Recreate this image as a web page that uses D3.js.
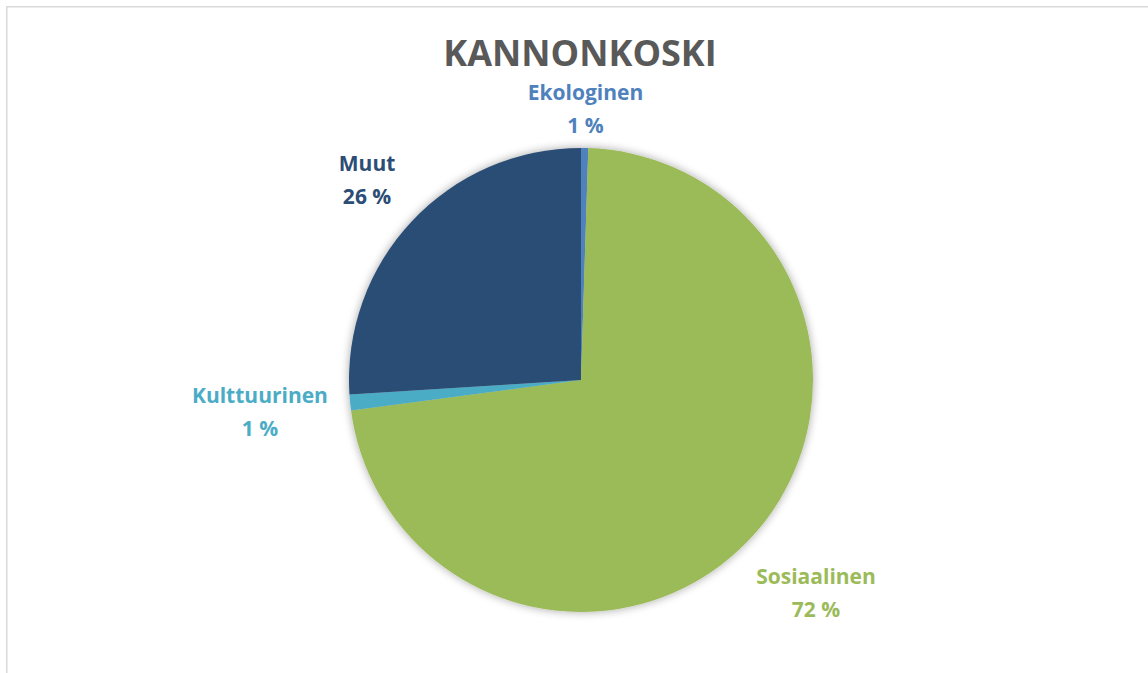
<!DOCTYPE html>
<html>
<head>
<meta charset="utf-8">
<script src="https://cdn.jsdelivr.net/npm/d3@7"></script>
<style>
  body { margin: 0; background: #fff; }
  svg { display: block; }
  text { font-family: "Open Sans", "Liberation Sans", sans-serif; font-weight: bold; }
</style>
</head>
<body>
<div id="chart"></div>
<script>
// chart values
const title = "KANNONKOSKI";
const categories = ["Ekologinen", "Sosiaalinen", "Kulttuurinen", "Muut"];
const values = [0.5, 72.4, 1.1, 26];
const colors = ["#4F81BD", "#9BBB59", "#4BACC6", "#2C4D75"];

document.addEventListener("DOMContentLoaded", function() {
  const width = 1148, height = 673;
  const cx = 581, cy = 380, radius = 232;

  const svg = d3.select("#chart").append("svg")
    .attr("width", width)
    .attr("height", height);

  // chart frame (runs past the right / bottom edge)
  svg.append("rect")
    .attr("x", 6.75).attr("y", 6.75)
    .attr("width", width + 50).attr("height", height + 50)
    .attr("fill", "none")
    .attr("stroke", "#d9d9d9")
    .attr("stroke-width", 1.5);

  // soft shadow like the office pie
  const defs = svg.append("defs");
  const filter = defs.append("filter").attr("id", "shadow")
    .attr("x", "-10%").attr("y", "-10%").attr("width", "120%").attr("height", "120%");
  filter.append("feGaussianBlur").attr("in", "SourceAlpha").attr("stdDeviation", 5).attr("result", "blur");
  filter.append("feComponentTransfer").attr("in", "blur").attr("result", "soft")
    .append("feFuncA").attr("type", "linear").attr("slope", 0.35);
  const merge = filter.append("feMerge");
  merge.append("feMergeNode").attr("in", "soft");
  merge.append("feMergeNode").attr("in", "SourceGraphic");

  svg.append("text")
    .attr("x", 580).attr("y", 66)
    .attr("text-anchor", "middle")
    .attr("font-size", 36)
    .attr("fill", "#595959")
    .text(title);
  const titleBottom = 68;

  const data = categories.map((c, i) => ({ name: c, value: values[i], color: colors[i] }));
  const total = d3.sum(values);

  const pie = d3.pie().value(d => d.value).sort(null);
  const arc = d3.arc().innerRadius(0).outerRadius(radius);
  const arcs = pie(data);

  const g = svg.append("g").attr("transform", `translate(${cx},${cy})`);

  g.append("g").attr("filter", "url(#shadow)")
    .selectAll("path")
    .data(arcs)
    .enter()
    .append("path")
    .attr("d", arc)
    .attr("fill", d => d.data.color);

  // outside labels, pushed out just past the rim
  const gap = 20;
  const labels = g.selectAll(".label")
    .data(arcs)
    .enter()
    .append("text")
    .attr("class", "label")
    .attr("text-anchor", "middle")
    .attr("font-size", 21)
    .attr("fill", d => d.data.color);

  labels.append("tspan").attr("x", 0).attr("dy", 0).text(d => d.data.name);
  labels.append("tspan").attr("x", 0).attr("dy", 33)
    .text(d => Math.round(d.data.value / total * 100) + " %");

  labels.each(function(d) {
    const box = this.getBBox();
    const a = (d.startAngle + d.endAngle) / 2;
    const s = Math.sin(a), c = -Math.cos(a);
    const r = radius + gap + (box.width / 2) * Math.abs(s) + (box.height / 2) * Math.abs(c);
    const midY = box.y + box.height / 2;
    let ty = r * c - midY;
    // keep clear of the title
    const minTop = titleBottom + 10 - cy;
    if (ty + box.y < minTop) ty = minTop - box.y;
    d3.select(this).attr("transform", `translate(${r * s},${ty})`);
  });
});
</script>
</body>
</html>
